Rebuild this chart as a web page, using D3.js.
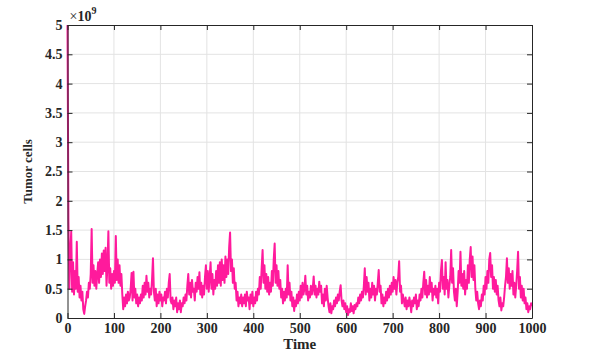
<!DOCTYPE html>
<html>
<head>
<meta charset="utf-8">
<script src="https://cdn.jsdelivr.net/npm/d3@7"></script>
<style>
  body { margin: 0; background: #fff; }
</style>
</head>
<body>
<div id="chart"></div>
<script>
// time step of the series
var dt = 2;

// tumor cells (x 10^9), one value every dt
var tumor = [
  5.0, 1.65, 0.5, 1.1, 1.47, 0.45, 0.95, 0.4, 0.8, 0.5,
  1.3, 0.45, 0.7, 0.35, 0.55, 0.3, 0.45, 0.15, 0.07, 0.2,
  0.3, 0.45, 0.35, 0.6, 0.5, 0.75, 1.52, 0.6, 0.9, 0.55,
  0.8, 0.5, 0.75, 0.95, 0.6, 1.0, 0.7, 1.1, 0.75, 1.15,
  0.8, 1.2, 0.55, 0.9, 1.48, 0.6, 0.85, 0.5, 0.75, 0.55,
  0.8, 0.6, 1.4, 0.65, 1.0, 0.6, 0.9, 0.55, 0.75, 0.4,
  0.15, 0.35, 0.2, 0.4, 0.25, 0.45, 0.3, 0.35, 0.5, 0.77,
  0.3, 0.79, 0.35, 0.5, 0.25, 0.4, 0.2, 0.35, 0.25, 0.4,
  0.3, 0.55, 0.35, 0.6, 0.4, 0.72, 0.45, 0.6, 0.35, 0.5,
  0.4, 0.65, 1.02, 0.45, 0.3, 0.5, 0.2, 0.4, 0.25, 0.45,
  0.3, 0.4, 0.2, 0.35, 0.3, 0.45, 0.25, 0.5, 0.35, 0.6,
  0.75, 0.3, 0.25, 0.35, 0.15, 0.3, 0.2, 0.35, 0.1, 0.25,
  0.15, 0.3, 0.1, 0.25, 0.2, 0.35, 0.25, 0.4, 0.3, 0.55,
  0.75, 0.4, 0.6, 0.35, 0.65, 0.45, 0.5, 0.3, 0.6, 0.45,
  0.7, 0.5, 0.78, 0.4, 0.6, 0.35, 0.55, 0.4, 0.7, 0.9,
  0.5, 0.8, 0.45, 0.7, 0.95, 0.5, 0.75, 0.4, 0.65, 0.5,
  0.8, 0.55, 0.9, 0.6, 0.95, 0.55, 1.0, 0.65, 0.9, 0.6,
  1.05, 0.7, 1.0, 0.75, 1.2, 1.46, 0.8, 1.0, 0.6, 0.85,
  0.5, 0.6, 0.3, 0.45, 0.2, 0.35, 0.25, 0.4, 0.2, 0.35,
  0.25, 0.4, 0.2, 0.45, 0.3, 0.35, 0.15, 0.4, 0.25, 0.45,
  0.2, 0.35, 0.25, 0.45, 0.3, 0.5, 0.4, 0.7, 0.5, 0.85,
  1.16, 0.6, 0.9, 0.5, 0.75, 0.45, 0.7, 0.4, 0.6, 0.45,
  0.8, 0.55, 1.0, 1.27, 0.6, 0.9, 0.55, 0.8, 0.5, 0.65,
  0.35, 0.5, 0.25, 0.45, 0.3, 0.5, 0.35, 0.9, 0.4, 0.6,
  0.3, 0.45, 0.2, 0.35, 0.12, 0.3, 0.2, 0.4, 0.25, 0.45,
  0.3, 0.55, 0.35, 0.6, 0.4, 0.5, 0.72, 0.4, 0.55, 0.3,
  0.45, 0.35, 0.55, 0.4, 0.5, 0.71, 0.4, 0.55, 0.35, 0.5,
  0.4, 0.62, 0.45, 0.55, 0.25, 0.4, 0.2, 0.5, 0.3, 0.55,
  0.35, 0.2, 0.1, 0.25, 0.08, 0.2, 0.15, 0.3, 0.2, 0.35,
  0.25, 0.4, 0.3, 0.45, 0.56, 0.3, 0.2, 0.3, 0.15, 0.25,
  0.1, 0.2, 0.05, 0.15, 0.1, 0.25, 0.12, 0.2, 0.08, 0.22,
  0.15, 0.25, 0.2, 0.35, 0.25, 0.4, 0.3, 0.45, 0.35, 0.55,
  0.85, 0.4, 0.7, 0.45, 0.6, 0.3, 0.5, 0.35, 0.6, 0.4,
  0.55, 0.3, 0.5, 0.4, 0.6, 0.82, 0.45, 0.55, 0.25, 0.4,
  0.2, 0.35, 0.25, 0.45, 0.3, 0.5, 0.35, 0.55, 0.4, 0.6,
  0.45, 0.7, 0.5, 0.65, 0.4, 0.6, 0.7, 0.97, 0.45, 0.55,
  0.25, 0.4, 0.3, 0.2, 0.35, 0.15, 0.3, 0.2, 0.35, 0.25,
  0.1, 0.3, 0.2, 0.35, 0.25, 0.4, 0.15, 0.3, 0.2, 0.4,
  0.3, 0.5, 0.35, 0.6, 0.79, 0.4, 0.65, 0.35, 0.55, 0.4,
  0.7, 0.45, 0.6, 0.3, 0.5, 0.4, 0.55, 0.35, 0.5, 0.25,
  0.6, 0.45, 0.8, 0.99, 0.5, 0.7, 0.4, 0.95, 0.5, 0.65,
  0.35, 0.55, 0.7, 1.16, 0.6, 0.85, 0.45, 0.3, 0.5, 0.2,
  0.45, 0.8, 0.6, 1.13, 0.55, 0.75, 0.5, 0.8, 0.4, 0.65,
  0.5, 0.9, 0.6, 1.0, 1.21, 0.7, 1.05, 0.65, 0.9, 0.5,
  0.3, 0.45, 0.25, 0.15, 0.3, 0.2, 0.4, 0.3, 0.55, 0.4,
  0.7, 0.5, 0.8, 0.6, 1.0, 1.11, 0.7, 0.9, 0.5, 0.7,
  0.45, 0.65, 0.4, 0.55, 0.3, 0.2, 0.35, 0.13, 0.25, 0.2,
  0.35, 0.55, 0.7, 1.02, 0.6, 0.85, 0.5, 0.75, 0.55, 0.8,
  0.4, 0.6, 0.35, 0.55, 0.8, 1.13, 0.5, 0.7, 0.35, 0.55,
  0.3, 0.5, 0.25, 0.35, 0.15, 0.25, 0.1, 0.2, 0.15, 0.25,
  0.2
];

var xTicks = [0, 100, 200, 300, 400, 500, 600, 700, 800, 900, 1000];
var yTicks = [0, 0.5, 1, 1.5, 2, 2.5, 3, 3.5, 4, 4.5, 5];

var serif = "'Liberation Serif', 'Times New Roman', serif";

// set the dimensions and margins of the graph
var margin = {top: 25, right: 70, bottom: 36, left: 67.5},
    width = 602 - margin.left - margin.right,
    height = 354 - margin.top - margin.bottom;

var svg = d3.select("#chart")
  .append("svg")
    .attr("width", 602)
    .attr("height", 354)
  .append("g")
    .attr("transform", "translate(" + margin.left + "," + margin.top + ")");

var x = d3.scaleLinear().domain([0, 1000]).range([0, width]);
var y = d3.scaleLinear().domain([0, 5]).range([height, 0]);

// grid
svg.append("g")
  .selectAll("line")
  .data(xTicks.slice(1, -1))
  .enter()
  .append("line")
    .attr("x1", function(d) { return x(d); })
    .attr("x2", function(d) { return x(d); })
    .attr("y1", 0)
    .attr("y2", height)
    .style("stroke", "#e3e3e3");

svg.append("g")
  .selectAll("line")
  .data(yTicks.slice(1, -1))
  .enter()
  .append("line")
    .attr("x1", 0)
    .attr("x2", width)
    .attr("y1", function(d) { return y(d); })
    .attr("y2", function(d) { return y(d); })
    .style("stroke", "#e3e3e3");

// line
var line = d3.line()
  .x(function(d, i) { return x(i * dt); })
  .y(function(d) { return y(d); });

svg.append("path")
  .datum(tumor)
  .attr("d", line)
  .style("fill", "none")
  .style("stroke", "#ff1a9c")
  .style("stroke-width", 2)
  .style("stroke-linejoin", "round");

// axes with inward ticks, box on all sides
function styleAxis(g) {
  g.attr("font-family", serif).attr("font-size", 14);
  g.select(".domain").style("stroke", "#262626");
  g.selectAll(".tick line").style("stroke", "#262626");
  g.selectAll(".tick text")
    .style("font-family", serif)
    .style("font-weight", "bold")
    .style("font-size", "14px")
    .style("fill", "#262626");
}

svg.append("g")
  .attr("transform", "translate(0," + height + ")")
  .call(d3.axisBottom(x).tickValues(xTicks).tickFormat(d3.format("d")).tickSizeInner(-5).tickSizeOuter(0).tickPadding(5))
  .call(styleAxis);

svg.append("g")
  .call(d3.axisTop(x).tickValues(xTicks).tickFormat("").tickSizeInner(-5).tickSizeOuter(0))
  .call(styleAxis);

svg.append("g")
  .call(d3.axisLeft(y).tickValues(yTicks).tickFormat(function(d) { return d; }).tickSizeInner(-5).tickSizeOuter(0).tickPadding(5))
  .call(styleAxis);

svg.append("g")
  .attr("transform", "translate(" + width + ",0)")
  .call(d3.axisRight(y).tickValues(yTicks).tickFormat("").tickSizeInner(-5).tickSizeOuter(0))
  .call(styleAxis);

// exponent label
var expo = svg.append("text")
  .attr("x", 2)
  .attr("y", -4)
  .style("font-family", serif)
  .style("fill", "#262626")
  .style("font-size", "14px");
expo.append("tspan").text("\u00d7");
expo.append("tspan").style("font-weight", "bold").text("10");
expo.append("tspan").attr("dy", -7).style("font-size", "10px").style("font-weight", "bold").text("9");

// x axis label
svg.append("text")
  .attr("x", width / 2)
  .attr("y", height + 31)
  .style("text-anchor", "middle")
  .style("font-family", serif)
  .style("font-weight", "bold")
  .style("font-size", "15px")
  .style("fill", "#262626")
  .text("Time");

// y axis label
svg.append("text")
  .attr("transform", "rotate(-90)")
  .attr("x", 0 - height / 2)
  .attr("y", -36)
  .style("text-anchor", "middle")
  .style("font-family", serif)
  .style("font-weight", "bold")
  .style("font-size", "13px")
  .style("fill", "#262626")
  .text("Tumor cells");
</script>
</body>
</html>
